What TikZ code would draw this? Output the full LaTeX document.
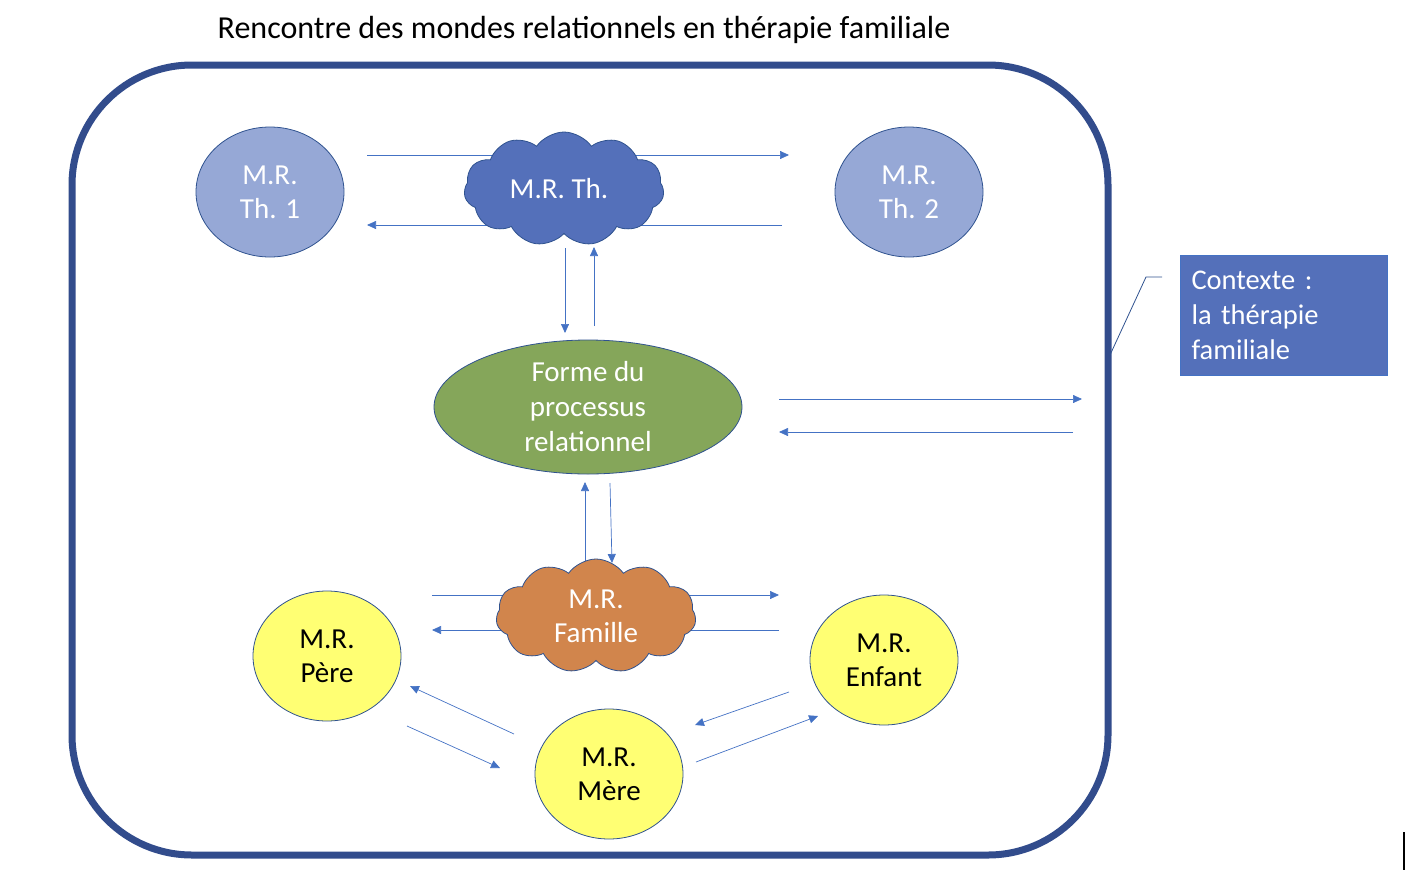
\documentclass[tikz,border=0pt]{standalone}
\usepackage{fontspec}
\setmainfont{Carlito}
\usetikzlibrary{shapes.geometric,shapes.symbols,arrows.meta}
\definecolor{cadre}{RGB}{50,76,140}
\definecolor{contour}{RGB}{47,82,143}
\definecolor{flux}{RGB}{68,114,196}
\definecolor{bleuth}{RGB}{150,168,214}
\definecolor{bleunuage}{RGB}{84,112,186}
\definecolor{vertforme}{RGB}{133,166,90}
\definecolor{orangefam}{RGB}{209,133,76}
\definecolor{jaunefam}{RGB}{255,255,115}
\begin{document}
\begin{tikzpicture}[x=1pt,y=-1pt,
    flux/.style={draw=flux, line width=0.7pt, -{Triangle[length=9pt,width=8pt]}},
    monde/.style={ellipse, draw=contour, line width=0.8pt, minimum width=148pt,
        minimum height=130pt, inner sep=0pt, align=center,
        font=\fontsize{29}{34}\selectfont},
    nuage/.style={cloud, cloud puffs=11, cloud puff arc=110, aspect=1.8,
        draw=contour, line width=0.8pt, minimum width=200pt, minimum height=114pt,
        inner sep=0pt, align=center, text=white, font=\fontsize{29}{34}\selectfont}]
    \useasboundingbox (0,0) rectangle (1406,884);

    \node[font=\fontsize{32}{38}\selectfont] (titre) at (584,30) {Rencontre des mondes relationnels en thérapie familiale};
    \draw[draw=cadre, line width=7pt, rounded corners=120pt] (72,65) rectangle (1108,855);

    \coordinate (th-a1) at (367,155); \coordinate (th-a2) at (789,155);
    \coordinate (th-b1) at (782,225); \coordinate (th-b2) at (367,225);
    \coordinate (v-a1) at (565,248);  \coordinate (v-a2) at (565,333);
    \coordinate (v-b1) at (594,326);  \coordinate (v-b2) at (594,247);
    \coordinate (c-a1) at (779,399);  \coordinate (c-a2) at (1082,399);
    \coordinate (c-b1) at (1073,432); \coordinate (c-b2) at (779,432);
    \coordinate (w-a1) at (585,562);  \coordinate (w-a2) at (585,482);
    \coordinate (w-b1) at (610,483);  \coordinate (w-b2) at (612,563);
    \coordinate (f-a1) at (432,595);  \coordinate (f-a2) at (779,595);
    \coordinate (f-b1) at (779,630);  \coordinate (f-b2) at (432,630);
    \coordinate (p-a1) at (514,734);  \coordinate (p-a2) at (410,686);
    \coordinate (p-b1) at (407,726);  \coordinate (p-b2) at (500,768);
    \coordinate (e-a1) at (789,692);  \coordinate (e-a2) at (695,725);
    \coordinate (e-b1) at (696,762);  \coordinate (e-b2) at (818,716);

    \draw[flux] (th-a1) -- (th-a2);
    \draw[flux] (th-b1) -- (th-b2);
    \draw[flux] (v-a1) -- (v-a2);
    \draw[flux] (v-b1) -- (v-b2);
    \draw[flux] (c-a1) -- (c-a2);
    \draw[flux] (c-b1) -- (c-b2);
    \draw[flux] (w-a1) -- (w-a2);
    \draw[flux] (w-b1) -- (w-b2);
    \draw[flux] (f-a1) -- (f-a2);
    \draw[flux] (f-b1) -- (f-b2);
    \draw[flux] (p-a1) -- (p-a2);
    \draw[flux] (p-b1) -- (p-b2);
    \draw[flux] (e-a1) -- (e-a2);
    \draw[flux] (e-b1) -- (e-b2);

    \node[monde, fill=bleuth, text=white] (th1) at (270,192) {M.R.\\Th. 1};
    \node[monde, fill=bleuth, text=white] (th2) at (909,192) {M.R.\\Th. 2};
    \node[nuage, fill=bleunuage] (nuageth) at (564,189) {M.R. Th.\hspace*{10pt}};
    \node[monde, fill=vertforme, text=white, minimum width=308pt, minimum height=134pt,
        font=\fontsize{29}{35}\selectfont] (forme) at (588,407) {Forme du\\processus\\relationnel};
    \node[nuage, fill=orangefam] (nuagefam) at (596,616) {M.R.\\Famille};
    \node[monde, fill=jaunefam] (pere) at (327,656) {M.R.\\Père};
    \node[monde, fill=jaunefam] (enfant) at (884,660) {M.R.\\Enfant};
    \node[monde, fill=jaunefam] (mere) at (609,774) {M.R.\\Mère};

    \node[draw=flux, fill=bleunuage, line width=0.8pt, minimum width=207pt, minimum height=120pt,
        text width=185pt, align=left, text=white, font=\fontsize{28.5}{35}\selectfont] (contexte) at (1284,315)
        {Contexte :\\la thérapie\\familiale};
    \coordinate (coude) at (1146,277);
    \coordinate (pied) at (1110,355);
    \draw[draw=contour, line width=0.8pt] (contexte.west |- coude) ++(-18,0) -- (coude) -- (pied);

    \draw[line width=2pt] (1404,832) -- (1404,870);
\end{tikzpicture}
\end{document}
